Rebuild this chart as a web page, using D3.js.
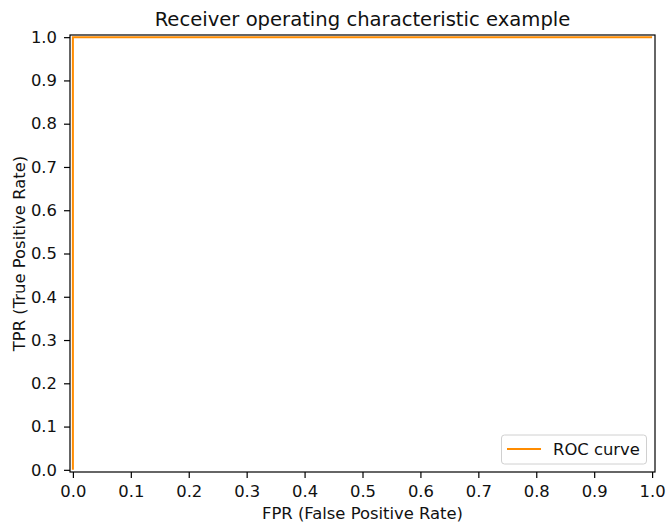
<!DOCTYPE html>
<html>
<head>
<meta charset="utf-8">
<script src="https://cdn.jsdelivr.net/npm/d3@7"></script>
<style>
  body { margin: 0; background: #fff; }
  svg { display: block; font-family: "DejaVu Sans", sans-serif; }
</style>
</head>
<body>
<svg id="chart" width="669" height="524"></svg>
<script>
const fpr = [0.0, 0.0, 1.0];
const tpr = [0.0, 1.0, 1.0];
const xTicks = [0.0, 0.1, 0.2, 0.3, 0.4, 0.5, 0.6, 0.7, 0.8, 0.9, 1.0];
const yTicks = [0.0, 0.1, 0.2, 0.3, 0.4, 0.5, 0.6, 0.7, 0.8, 0.9, 1.0];
const seriesName = "ROC curve";
const titleText = "Receiver operating characteristic example";
const xLabel = "FPR (False Positive Rate)";
const yLabel = "TPR (True Positive Rate)";

const svg = d3.select("#chart");
const L = 70, R = 655, T = 35, B = 472;
const FS = 16.4;

const x = d3.scaleLinear().domain([-0.005, 1.005]).range([L, R]);
const y = d3.scaleLinear().domain([-0.005, 1.005]).range([B, T]);

// axes
const xAxis = d3.axisBottom(x).tickValues(xTicks).tickFormat(d3.format(".1f")).tickSize(6).tickPadding(7);
const yAxis = d3.axisLeft(y).tickValues(yTicks).tickFormat(d3.format(".1f")).tickSize(6).tickPadding(7);

const gx = svg.append("g").attr("transform", `translate(0,${B})`).call(xAxis);
const gy = svg.append("g").attr("transform", `translate(${L},0)`).call(yAxis);
[gx, gy].forEach(g => {
  g.select(".domain").remove();
  g.selectAll(".tick line").attr("stroke", "#000").attr("stroke-width", 1.2);
  g.selectAll(".tick text").attr("fill", "#111").style("font-size", FS + "px").style("font-family", "DejaVu Sans");
});

// line
const line = d3.line().x((d, i) => x(fpr[i])).y((d, i) => y(tpr[i]));
svg.append("path")
  .datum(fpr)
  .attr("d", line)
  .attr("fill", "none")
  .attr("stroke", "#ff8c00")
  .attr("stroke-width", 2);

// spines
svg.append("rect")
  .attr("x", L).attr("y", T).attr("width", R - L).attr("height", B - T)
  .attr("fill", "none").attr("stroke", "#000").attr("stroke-width", 1.2);

// title
svg.append("text")
  .attr("x", (L + R) / 2).attr("y", 26)
  .attr("text-anchor", "middle")
  .style("font-size", "19.6px")
  .attr("fill", "#111")
  .text(titleText);

// x label
svg.append("text")
  .attr("x", (L + R) / 2).attr("y", 519)
  .attr("text-anchor", "middle")
  .style("font-size", FS + "px")
  .attr("fill", "#111")
  .text(xLabel);

// y label
svg.append("text")
  .attr("transform", `translate(25,${(T + B) / 2}) rotate(-90)`)
  .attr("text-anchor", "middle")
  .style("font-size", FS + "px")
  .attr("fill", "#111")
  .text(yLabel);

// legend
const lg = svg.append("g");
lg.append("rect")
  .attr("x", 501.5).attr("y", 435).attr("width", 145).attr("height", 29)
  .attr("rx", 3).attr("ry", 3)
  .attr("fill", "#fff").attr("fill-opacity", 0.8)
  .attr("stroke", "#d0d0d0").attr("stroke-width", 1);
lg.append("line")
  .attr("x1", 507).attr("x2", 541).attr("y1", 449).attr("y2", 449)
  .attr("stroke", "#ff8c00").attr("stroke-width", 2);
lg.append("text")
  .attr("x", 553).attr("y", 455)
  .style("font-size", FS + "px")
  .attr("fill", "#111")
  .text(seriesName);
</script>
</body>
</html>
